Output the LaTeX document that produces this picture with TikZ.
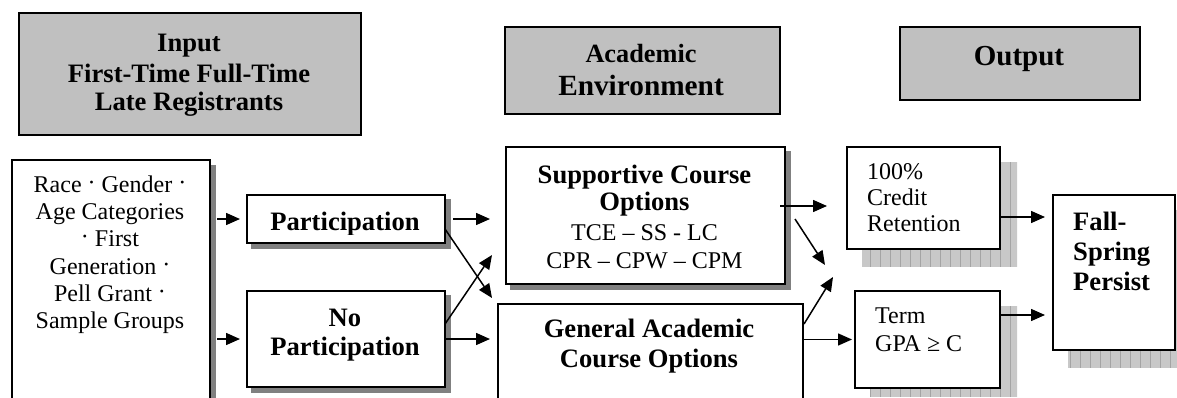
\documentclass[tikz,border=0pt]{standalone}
\usepackage{fontspec}
\setmainfont{Liberation Serif}
\usetikzlibrary{arrows.meta,calc,backgrounds}
\definecolor{hdrgray}{HTML}{C0C0C0}
\definecolor{shgray}{HTML}{808080}
\definecolor{hatchfill}{HTML}{C8C8C8}
\definecolor{hatchline}{HTML}{A4A4A4}
\newcommand{\rdot}{\raisebox{2pt}{·}}
\begin{document}
\begin{tikzpicture}[x=1pt,y=-1pt,
  hdr/.style={draw=black, line width=1.8pt, fill=hdrgray, inner sep=0pt, anchor=north west},
  wbox/.style={draw=black, line width=2pt, fill=white, inner sep=0pt, anchor=north west},
  txt/.style={inner sep=0pt, anchor=base},
  txtl/.style={inner sep=0pt, anchor=base west},
  bf/.style={font=\fontsize{26.6}{30}\selectfont\bfseries},
  rg/.style={font=\fontsize{24}{27}\selectfont},
  arr/.style={line width=1.5pt, -{Triangle[length=14pt,width=12pt]}}
]
\useasboundingbox (0,0) rectangle (1177,397);
\clip (0,0) rectangle (1177,397);

% header boxes
\node[hdr, minimum width=342, minimum height=122] (IN) at (18,12) {};
\node[hdr, minimum width=275, minimum height=87] (AE) at (504,26) {};
\node[hdr, minimum width=240, minimum height=73] (OUT) at (899,26) {};

% white boxes
\node[wbox, minimum width=198, minimum height=300] (L) at (11,159) {};
\node[wbox, minimum width=198, minimum height=48] (P) at (246,194) {};
\node[wbox, minimum width=198, minimum height=96] (N) at (246,290) {};
\node[wbox, minimum width=279, minimum height=137] (S) at (505,146) {};
\node[wbox, minimum width=305, minimum height=150] (G) at (497,303) {};
\node[wbox, minimum width=153, minimum height=102] (C) at (846,146) {};
\node[wbox, minimum width=145, minimum height=97] (T) at (854,290) {};
\node[wbox, minimum width=122, minimum height=155] (F) at (1052,194) {};

% shadows
\begin{scope}[on background layer]
  \fill[shgray] ($(L.north west)+(5,6)$) rectangle ($(L.south east)+(5,6)$);
  \fill[shgray] ($(P.north west)+(5,5)$) rectangle ($(P.south east)+(5,5)$);
  \fill[shgray] ($(N.north west)+(5,5)$) rectangle ($(N.south east)+(5,5)$);
  \fill[shgray] ($(S.north west)+(5,5)$) rectangle ($(S.south east)+(5,5)$);
  \begin{scope}
    \clip ($(C.north west)+(16,16)$) rectangle ($(C.south east)+(16,16)$);
    \fill[hatchfill] (0,0) rectangle (1177,397);
    \draw[hatchline, line width=0.6pt, step=10] (0,0) grid (1177,397);
  \end{scope}
  \begin{scope}
    \clip ($(T.north west)+(16,16)$) rectangle ($(T.south east)+(16,16)$);
    \fill[hatchfill] (0,0) rectangle (1177,397);
    \draw[hatchline, line width=0.6pt, step=10] (0,0) grid (1177,397);
  \end{scope}
  \begin{scope}
    \clip ($(F.north west)+(16,16)$) rectangle ($(F.south east)+(16,16)$);
    \fill[hatchfill] (0,0) rectangle (1177,397);
    \draw[hatchline, line width=0.6pt, step=10] (0,0) grid (1177,397);
  \end{scope}
\end{scope}

% header texts
\node[txt,bf] (in1) at (189,51) {Input};
\node[txt,bf] (in2) at (189,82) {First-Time Full-Time};
\node[txt,bf] (in3) at (189,110) {Late Registrants};
\node[txt,font=\fontsize{26.3}{30}\selectfont\bfseries] (ae1) at (641,62) {Academic};
\node[txt,font=\fontsize{29.3}{32}\selectfont\bfseries] (ae2) at (641,95) {Environment};
\node[txt,font=\fontsize{29}{32}\selectfont\bfseries] (out1) at (1019,65) {Output};

% left box text
\node[txt,rg] (l1) at (110,192) {Race \rdot{} Gender \rdot};
\node[txt,rg] (l2) at (110,219) {Age Categories};
\node[txt,rg] (l3) at (110,246.5) {\rdot{} First};
\node[txt,rg] (l4) at (110,274) {Generation \rdot};
\node[txt,rg] (l5) at (110,301) {Pell Grant \rdot};
\node[txt,rg] (l6) at (110,328) {Sample Groups};

% participation
\begin{scope}
  \clip (P.north west) rectangle ($(P.south east)+(0,-10)$);
  \node[txt,bf] (p1) at (345,230.7) {Participation};
\end{scope}
\node[txt,bf] (n1) at (345,326.7) {No};
\node[txt,bf] (n2) at (345,355.7) {Participation};

% supportive
\node[txt,bf] (s1) at (644.5,183) {Supportive Course};
\node[txt,bf] (s2) at (644.5,210) {Options};
\node[txt,rg] (s3) at (644.5,240) {TCE – SS - LC};
\node[txt,rg] (s4) at (644.5,268) {CPR – CPW – CPM};

% general
\node[txt,bf] (g1) at (649,337.7) {General Academic};
\node[txt,bf] (g2) at (649,367.7) {Course Options};

% outputs
\node[txtl,rg] (c1) at (867,179.3) {100\%};
\node[txtl,rg] (c2) at (867,205) {Credit};
\node[txtl,rg] (c3) at (867,231.7) {Retention};
\node[txtl,rg] (t1) at (875,323.3) {Term};
\node[txtl,rg] (t2) at (875,351.7) {GPA ≥ C};
\node[txtl,bf] (f1) at (1073,230) {Fall-};
\node[txtl,bf] (f2) at (1073,260) {Spring};
\node[txtl,bf] (f3) at (1073,290) {Persist};

% connectors
\draw[arr, shorten <=6pt, shorten >=6pt] (L.east |- P.west) -- (P.west);
\draw[arr, shorten <=6pt, shorten >=6pt] (L.east |- N.west) -- (N.west);
\draw[arr, shorten <=7pt, shorten >=15pt] (P.east) -- (P.east -| S.west);
\draw[arr] ($(P.east)+(-1,10)$) -- ($(G.north west)+(-5,-5)$);
\draw[arr] ($(N.east)+(-1,-15)$) -- ($(S.south west)+(-13,-30)$);
\draw[arr, shorten >=7pt] (N.east) -- (N.east -| G.west);
\draw[arr] ($(S.east)+(-6,-9.5)$) -- ($(C.west)+(-19,8)$);
\coordinate (gapA) at (825,265);
\coordinate (gapB) at (833,277);
\draw[arr] ($(S.east)+(9,3.5)$) -- (gapA);
\draw[arr] ($(G.north east)+(0,21)$) -- (gapB);
\draw[arr, shorten >=2pt] (T.west -| G.east) -- (T.west);
\draw[arr, shorten >=7pt] ($(C.east)+(0,19)$) coordinate (ce) -- (ce -| F.west);
\draw[arr, shorten >=7pt] ($(T.east)+(0,-24.5)$) coordinate (te) -- (te -| F.west);
\end{tikzpicture}
\end{document}
